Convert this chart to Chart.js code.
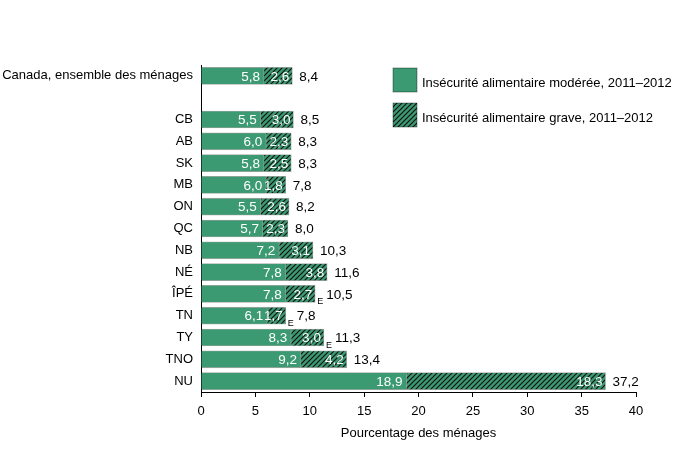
<!DOCTYPE html>
<html>
<head>
<meta charset="utf-8">
<script src="https://cdn.jsdelivr.net/npm/chart.js@4/dist/chart.umd.min.js"></script>
<style>
html,body{margin:0;padding:0;background:#fff;}
#wrap{width:700px;height:450px;}
</style>
</head>
<body>
<div id="wrap"><canvas id="c" width="700" height="450"></canvas></div>
<script>
const categories = ['Canada, ensemble des ménages', '', 'CB', 'AB', 'SK', 'MB', 'ON', 'QC', 'NB', 'NÉ', 'ÎPÉ', 'TN', 'TY', 'TNO', 'NU'];
const moderate = [5.8, null, 5.5, 6.0, 5.8, 6.0, 5.5, 5.7, 7.2, 7.8, 7.8, 6.1, 8.3, 9.2, 18.9];
const severe   = [2.6, null, 3.0, 2.3, 2.5, 1.8, 2.6, 2.3, 3.1, 3.8, 2.7, 1.7, 3.0, 4.2, 18.3];
const totals   = [8.4, null, 8.5, 8.3, 8.3, 7.8, 8.2, 8.0, 10.3, 11.6, 10.5, 7.8, 11.3, 13.4, 37.2];
const flags    = ['', '', '', '', '', '', '', '', '', '', 'E', 'E', 'E', '', ''];
const seriesNames = ['Insécurité alimentaire modérée, 2011–2012', 'Insécurité alimentaire grave, 2011–2012'];
const xTicks = [0, 5, 10, 15, 20, 25, 30, 35, 40];

const GREEN = '#3b9a72';
const FONT = '"Liberation Sans", Arial, Helvetica, sans-serif';

function makeHatch(){
  const s = 5;
  const pc = document.createElement('canvas');
  pc.width = s; pc.height = s;
  const g = pc.getContext('2d');
  g.fillStyle = GREEN; g.fillRect(0,0,s,s);
  g.strokeStyle = '#111'; g.lineWidth = 1.2;
  g.beginPath();
  g.moveTo(-1, s+1); g.lineTo(s+1, -1);
  g.moveTo(-1, 1); g.lineTo(1, -1);
  g.moveTo(s-1, s+1); g.lineTo(s+1, s-1);
  g.stroke();
  return document.getElementById('c').getContext('2d').createPattern(pc, 'repeat');
}
const hatch = makeHatch();

function fmt(v){ return v.toFixed(1).replace('.', ','); }

const labelPlugin = {
  id: 'labels',
  afterDatasetsDraw(chart){
    const ctx = chart.ctx;
    const m0 = chart.getDatasetMeta(0).data;
    const m1 = chart.getDatasetMeta(1).data;
    ctx.save();
    ctx.textBaseline = 'middle';
    for (let i = 0; i < categories.length; i++){
      if (moderate[i] == null) continue;
      const b0 = m0[i], b1 = m1[i];
      ctx.font = '13.5px ' + FONT;
      ctx.fillStyle = '#fff';
      ctx.textAlign = 'right';
      ctx.fillText(fmt(moderate[i]), b0.x - 4, b0.y + 1);
      ctx.fillText(fmt(severe[i]), b1.x - 3, b1.y + 1);
      let tx = b1.x + 7;
      if (flags[i]){
        ctx.font = '9px ' + FONT;
        ctx.fillStyle = '#000';
        ctx.textAlign = 'left';
        ctx.fillText(flags[i], b1.x + 2, b1.y + 8);
        tx = b1.x + 11;
      }
      ctx.font = '13.5px ' + FONT;
      ctx.fillStyle = '#000';
      ctx.textAlign = 'left';
      ctx.fillText(fmt(totals[i]), tx, b1.y + 1);
    }
    ctx.restore();
  }
};

const legendPlugin = {
  id: 'customLegend',
  afterDraw(chart){
    const ctx = chart.ctx;
    ctx.save();
    const items = [{fill: GREEN, y: 68}, {fill: hatch, y: 103}];
    items.forEach((it, k) => {
      ctx.fillStyle = it.fill;
      ctx.fillRect(393, it.y, 24, 24);
      ctx.strokeStyle = 'rgba(0,0,0,0.45)';
      ctx.lineWidth = 0.8;
      ctx.strokeRect(393, it.y, 24, 24);
      ctx.fillStyle = '#000';
      ctx.font = '13px ' + FONT;
      ctx.textAlign = 'left';
      ctx.textBaseline = 'middle';
      ctx.fillText(seriesNames[k], 422, it.y + 15);
    });
    ctx.restore();
  }
};

new Chart(document.getElementById('c'), {
  type: 'bar',
  data: {
    labels: categories,
    datasets: [
      { label: seriesNames[0], data: moderate, backgroundColor: GREEN, borderColor: 'rgba(0,0,0,0.35)', borderWidth: 0.8, barThickness: 17 },
      { label: seriesNames[1], data: severe, backgroundColor: hatch, borderColor: 'rgba(0,0,0,0.35)', borderWidth: 0.8, barThickness: 17 }
    ]
  },
  options: {
    indexAxis: 'y',
    responsive: false,
    animation: false,
    layout: { padding: { top: 65, right: 64, bottom: 0, left: 0 } },
    plugins: { legend: { display: false }, tooltip: { enabled: false } },
    scales: {
      y: {
        stacked: true,
        grid: { display: false },
        border: { display: true, color: '#000', width: 1 },
        ticks: { color: '#000', font: { size: 13, family: FONT }, padding: 0, autoSkip: false },
        afterFit(scale){ scale.width = 201; }
      },
      x: {
        stacked: true,
        min: 0, max: 40,
        afterBuildTicks(scale){ scale.ticks = xTicks.map(v => ({ value: v })); },
        grid: { display: true, drawOnChartArea: false, drawTicks: true, tickLength: 5, color: '#000', lineWidth: 1 },
        border: { display: true, color: '#000', width: 1 },
        ticks: { color: '#000', font: { size: 13, family: FONT }, padding: 7, maxRotation: 0 },
        title: { display: true, text: 'Pourcentage des ménages', color: '#000', font: { size: 13, family: FONT }, padding: { top: 4, bottom: 9 } },
        afterFit(scale){ scale.height = 58; }
      }
    }
  },
  plugins: [labelPlugin, legendPlugin]
});
</script>
</body>
</html>
